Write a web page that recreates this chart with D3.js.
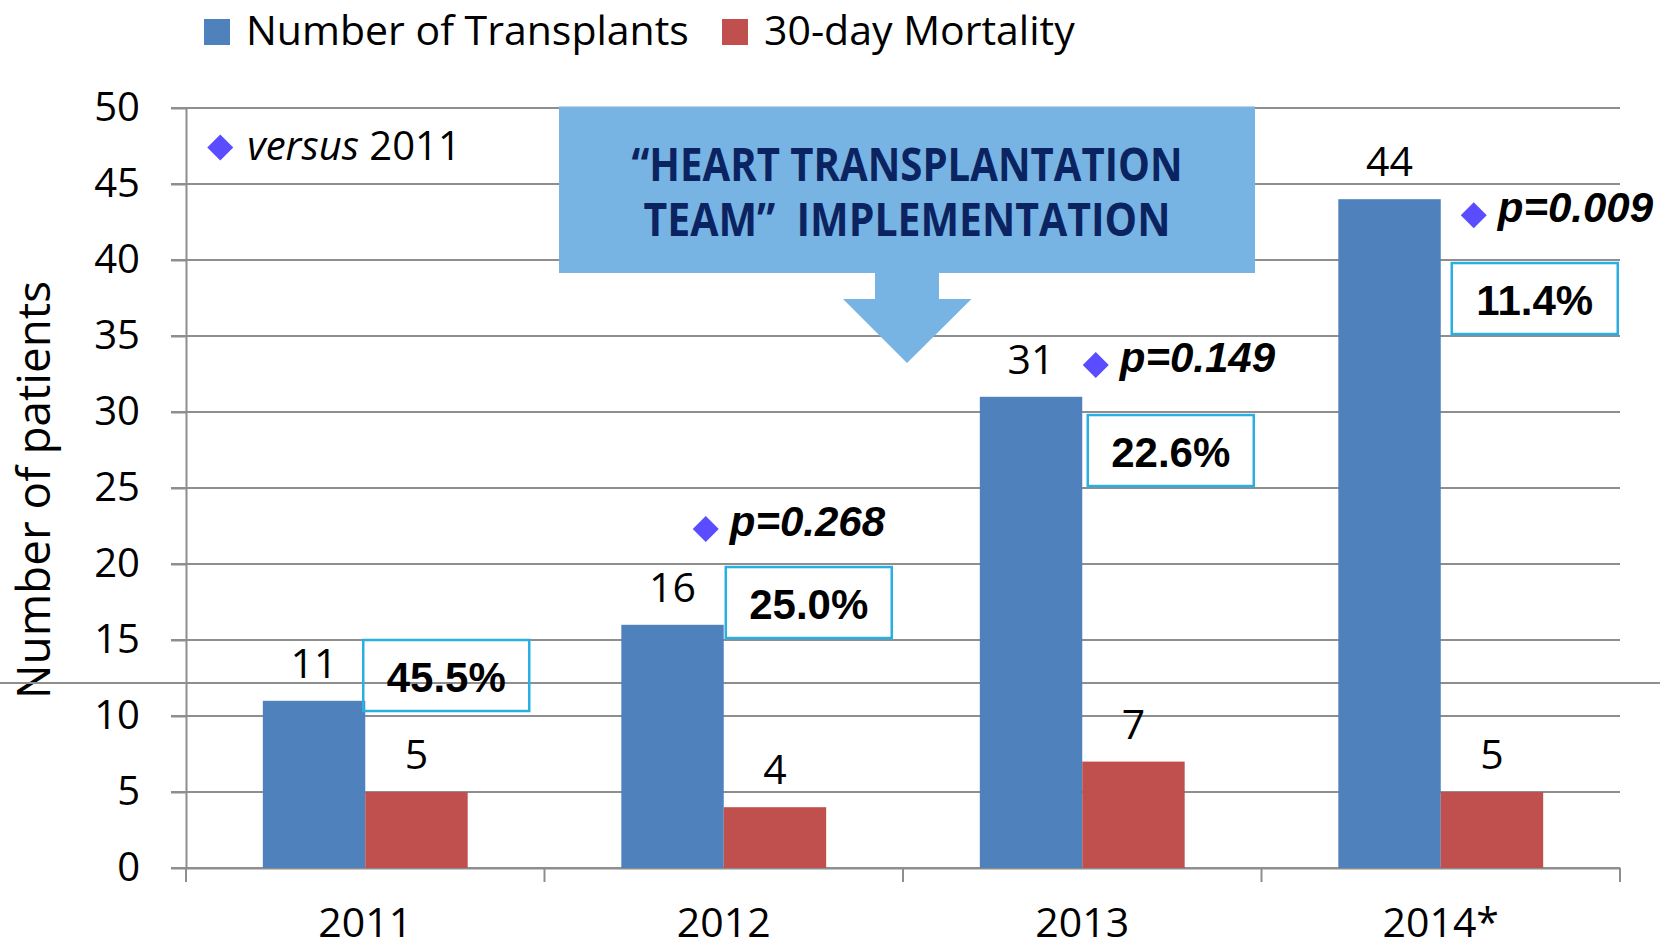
<!DOCTYPE html>
<html>
<head>
<meta charset="utf-8">
<script src="https://cdn.jsdelivr.net/npm/d3@7"></script>
<style>
  html, body { margin: 0; padding: 0; background: #fff; }
  svg { display: block; }
  text { fill: #000; }
</style>
</head>
<body>
<svg id="chart" width="1660" height="949" font-family="'Open Sans', sans-serif"></svg>
<script>
var years = ['2011', '2012', '2013', '2014*'];
var seriesNames = ['Number of Transplants', '30-day Mortality'];
var transplants = [11, 16, 31, 44];
var mortality = [5, 4, 7, 5];
var pValues = ['versus', '0.268', '0.149', '0.009'];
var yTicks = [0, 5, 10, 15, 20, 25, 30, 35, 40, 45, 50];
var colors = ['#4f81bd', '#c0504d'];

var svg = d3.select('#chart');
var gridColor = '#8e8e8e';
var arialish = '"Liberation Sans", Arial, sans-serif';

var x0 = d3.scaleBand().domain(years).range([186, 1620]).padding(0);
var x1 = d3.scaleBand().domain(seriesNames).range([0, x0.bandwidth()])
    .paddingInner(0).paddingOuter(0.75);
var y = d3.scaleLinear().domain([0, 50]).range([868, 108]);

// gridlines (they stick out a bit left of the axis)
svg.append('g').selectAll('line').data(yTicks).enter().append('line')
    .attr('x1', 171).attr('x2', 1620)
    .attr('y1', function(d) { return y(d); })
    .attr('y2', function(d) { return y(d); })
    .attr('stroke', gridColor).attr('stroke-width', 2);

// y axis
var yAxis = svg.append('g').attr('transform', 'translate(186,0)')
    .call(d3.axisLeft(y).tickValues(yTicks).tickSize(15).tickSizeOuter(0).tickPadding(31));
yAxis.select('.domain').attr('stroke', gridColor).attr('stroke-width', 2);
yAxis.selectAll('.tick line').attr('stroke', gridColor).attr('stroke-width', 2);
yAxis.selectAll('.tick text').attr('font-size', 40);

// x axis
var xAxis = svg.append('g').attr('transform', 'translate(0,868)')
    .call(d3.axisBottom(x0).tickSize(0).tickSizeOuter(0).tickPadding(40));
xAxis.select('.domain').attr('stroke', gridColor).attr('stroke-width', 2);
xAxis.selectAll('.tick text').attr('font-size', 41);
yAxis.attr('font-family', null);
xAxis.attr('font-family', null);

// tick marks between categories
var bounds = years.map(function(d) { return x0(d); }).concat([x0.range()[1]]);
svg.append('g').selectAll('line').data(bounds).enter().append('line')
    .attr('x1', function(d) { return d; }).attr('x2', function(d) { return d; })
    .attr('y1', 868).attr('y2', 882)
    .attr('stroke', gridColor).attr('stroke-width', 2);

// y title
svg.append('text')
    .attr('transform', 'translate(50,490) rotate(-90)')
    .attr('text-anchor', 'middle')
    .attr('font-size', 45)
    .attr('textLength', 418).attr('lengthAdjust', 'spacingAndGlyphs')
    .text('Number of patients');

// stray horizontal line crossing the whole slide
svg.append('line')
    .attr('x1', 0).attr('x2', 1660).attr('y1', 683).attr('y2', 683)
    .attr('stroke', gridColor).attr('stroke-width', 2);

// bars
var rows = years.map(function(yr, i) {
  return { year: yr, values: [transplants[i], mortality[i]] };
});

var groups = svg.append('g').selectAll('g.year').data(rows).enter().append('g')
    .attr('class', 'year')
    .attr('transform', function(d) { return 'translate(' + x0(d.year) + ',0)'; });

groups.selectAll('rect').data(function(d) {
  return d.values.map(function(v, j) { return { s: seriesNames[j], v: v, c: colors[j] }; });
}).enter().append('rect')
    .attr('x', function(d) { return x1(d.s); })
    .attr('width', x1.bandwidth())
    .attr('y', function(d) { return y(d.v); })
    .attr('height', function(d) { return y(0) - y(d.v); })
    .attr('fill', function(d) { return d.c; });

groups.selectAll('text.val').data(function(d) {
  return d.values.map(function(v, j) { return { s: seriesNames[j], v: v }; });
}).enter().append('text')
    .attr('class', 'val')
    .attr('x', function(d) { return x1(d.s) + x1.bandwidth() / 2; })
    .attr('y', function(d) { return y(d.v) - 23; })
    .attr('text-anchor', 'middle')
    .attr('font-size', 41)
    .text(function(d) { return d.v; });

// mortality rate boxes, the rate comes from the data
var boxLayout = [{ dx: -2, top: 15.0 }, { dx: 2, top: 19.8 }, { dx: 5.5, top: 29.8 }, { dx: 11, top: 39.8 }];
var boxW = 166, boxH = 71;

years.forEach(function(yr, i) {
  var cx = x0(yr) + x0.bandwidth() / 2 + boxLayout[i].dx;
  var top = y(boxLayout[i].top);
  svg.append('rect')
      .attr('x', cx).attr('y', top).attr('width', boxW).attr('height', boxH)
      .attr('fill', 'none').attr('stroke', '#2aafe3').attr('stroke-width', 2.5);
  svg.append('text')
      .attr('x', cx + boxW / 2).attr('y', top + boxH / 2 + 16)
      .attr('text-anchor', 'middle')
      .attr('font-family', arialish)
      .attr('font-weight', 'bold').attr('font-size', 42)
      .text((mortality[i] / transplants[i] * 100).toFixed(1) + '%');
});

// p-values with diamonds
var pLayout = [{ dx: -145, v: 47.4 }, { dx: -18, v: 22.3 }, { dx: 13.5, v: 33.1 }, { dx: 33, v: 42.95 }];
var diamondColor = '#5a4cff';

pValues.forEach(function(p, i) {
  var cx = x0(years[i]) + x0.bandwidth() / 2 + pLayout[i].dx;
  var cy = y(pLayout[i].v);
  var r = 13;
  svg.append('path')
      .attr('d', 'M' + cx + ',' + (cy - r) + 'L' + (cx + r) + ',' + cy + 'L' + cx + ',' + (cy + r) + 'L' + (cx - r) + ',' + cy + 'Z')
      .attr('fill', diamondColor);
  if (i === 0) {
    var t = svg.append('text').attr('x', cx + 27).attr('y', cy + 12).attr('font-size', 40);
    t.append('tspan').attr('font-style', 'italic').text('versus');
    t.append('tspan').text(' ' + years[0]);
  } else {
    svg.append('text')
        .attr('x', cx + 24).attr('y', cy + 7)
        .attr('font-family', arialish)
        .attr('font-weight', 'bold').attr('font-style', 'italic')
        .attr('font-size', 42)
        .text('p=' + p);
  }
});

// callout box with arrow
var calloutFill = '#77b4e3';
svg.append('path')
    .attr('d', 'M559,106.5 L1255,106.5 L1255,273 L939,273 L939,299 L971.5,299 L907,363 L843,299 L875,299 L875,273 L559,273 Z')
    .attr('fill', calloutFill);

var calloutLines = [
  { t: '\u201cHEART TRANSPLANTATION', y: 181, w: 551 },
  { t: 'TEAM\u201d\u00a0\u00a0IMPLEMENTATION', y: 236, w: 527 }
];
svg.selectAll('text.callout').data(calloutLines).enter().append('text')
    .attr('class', 'callout')
    .attr('x', 907).attr('y', function(d) { return d.y; })
    .attr('text-anchor', 'middle')
    .attr('font-weight', 'bold').attr('font-size', 46)
    .attr('textLength', function(d) { return d.w; })
    .attr('lengthAdjust', 'spacingAndGlyphs')
    .style('fill', '#0b2461')
    .text(function(d) { return d.t; });

// legend
var legend = svg.append('g').selectAll('g').data(seriesNames).enter().append('g');
var legendX = [204, 722];
legend.append('rect')
    .attr('x', function(d, i) { return legendX[i]; })
    .attr('y', 19).attr('width', 26).attr('height', 26)
    .attr('fill', function(d, i) { return colors[i]; });
legend.append('text')
    .attr('x', function(d, i) { return legendX[i] + 42; })
    .attr('y', 45)
    .attr('font-size', 41)
    .text(function(d) { return d; });
</script>
</body>
</html>
